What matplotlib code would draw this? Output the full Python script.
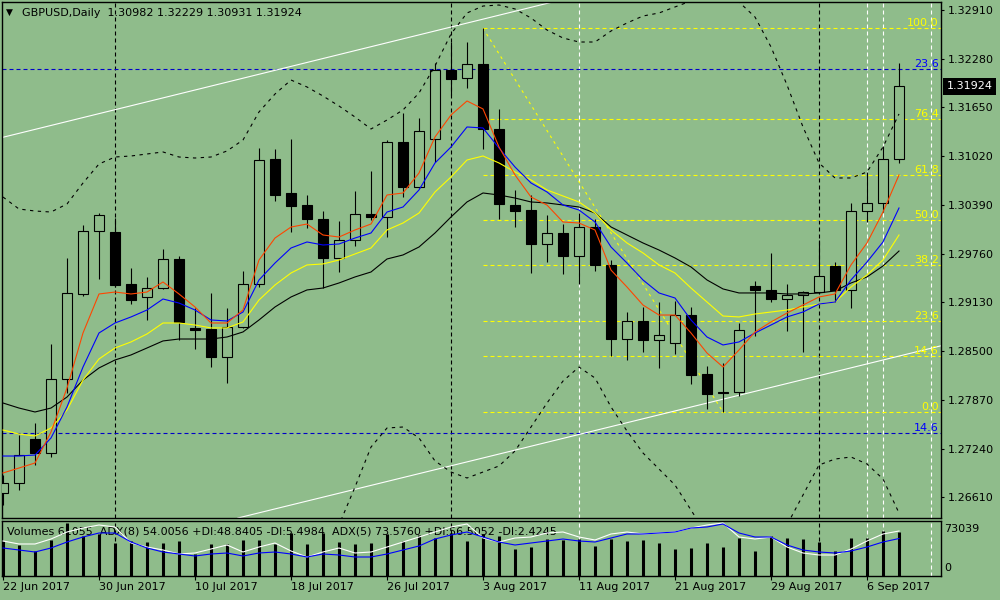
import matplotlib
matplotlib.use("Agg")
import matplotlib.pyplot as plt
from matplotlib.patches import Rectangle
import matplotlib.transforms as mtransforms

BG = "#8FBC8B"

# ---------------- data ----------------
opens = [1.26668, 1.26797, 1.27366, 1.27185, 1.28141, 1.29240, 1.30054, 1.30041, 1.29369, 1.29201,
         1.29317, 1.29692, 1.28801, 1.28788, 1.28426, 1.28813, 1.29369, 1.30984, 1.30545, 1.30390,
         1.30209, 1.29705, 1.29938, 1.30274, 1.30235, 1.31204, 1.30623, 1.31243, 1.32135, 1.32031,
         1.32212, 1.31372, 1.30390, 1.30325, 1.29886, 1.30028, 1.29731, 1.30106, 1.29615, 1.28658,
         1.28891, 1.28645, 1.28607, 1.28969, 1.28206, 1.27973, 1.27973, 1.29343, 1.29292, 1.29175,
         1.29227, 1.29266, 1.29602, 1.29292, 1.30312, 1.30416, 1.30982]
highs = [1.26901, 1.27418, 1.27573, 1.28594, 1.29705, 1.30132, 1.30287, 1.30222, 1.29576, 1.29460,
         1.29821, 1.29731, 1.29059, 1.29253, 1.29059, 1.29537, 1.31127, 1.31114, 1.31243, 1.30519,
         1.30312, 1.30183, 1.30571, 1.30829, 1.31230, 1.31579, 1.31514, 1.32225, 1.32496, 1.32496,
         1.32674, 1.31631, 1.30584, 1.30519, 1.30261, 1.30144, 1.30287, 1.30209, 1.29679, 1.29007,
         1.29072, 1.29137, 1.29149, 1.29072, 1.28309, 1.28348, 1.28865, 1.29408, 1.29770, 1.29369,
         1.29280, 1.29938, 1.29653, 1.30416, 1.30817, 1.31153, 1.32229]
lows = [1.26513, 1.26707, 1.27030, 1.27133, 1.27960, 1.29214, 1.29434, 1.29330, 1.29111, 1.28904,
        1.29305, 1.28645, 1.28529, 1.28296, 1.28090, 1.28800, 1.29330, 1.30442, 1.30041, 1.30093,
        1.29317, 1.29524, 1.29860, 1.30196, 1.29976, 1.30493, 1.30610, 1.30946, 1.31812, 1.31902,
        1.31114, 1.30209, 1.30106, 1.29511, 1.29653, 1.29498, 1.29369, 1.29537, 1.28439, 1.28387,
        1.28490, 1.28284, 1.28464, 1.28077, 1.27754, 1.27715, 1.27922, 1.28697, 1.29137, 1.28762,
        1.28490, 1.29250, 1.29137, 1.29059, 1.30170, 1.30300, 1.30931]
closes = [1.26797, 1.27159, 1.27185, 1.28141, 1.29253, 1.30054, 1.30261, 1.29356, 1.29162, 1.29317,
          1.29692, 1.28878, 1.28775, 1.28426, 1.28813, 1.29369, 1.30972, 1.30519, 1.30377, 1.30209,
          1.29705, 1.29938, 1.30274, 1.30235, 1.31204, 1.30623, 1.31346, 1.32135, 1.32018, 1.32212,
          1.31372, 1.30403, 1.30312, 1.29886, 1.30028, 1.29731, 1.30106, 1.29615, 1.28658, 1.28891,
          1.28645, 1.28710, 1.28969, 1.28193, 1.27948, 1.27960, 1.28775, 1.29292, 1.29175, 1.29227,
          1.29266, 1.29473, 1.29292, 1.30312, 1.30416, 1.30984, 1.31924]

ma_red = [1.26927, 1.26991, 1.27056, 1.27456, 1.28025, 1.28736, 1.29240, 1.29265, 1.29240, 1.29265,
          1.29395, 1.29240, 1.29072, 1.28865, 1.28865, 1.29033, 1.29679, 1.29963, 1.30105, 1.30144,
          1.30002, 1.29976, 1.30067, 1.30144, 1.30519, 1.30545, 1.30803, 1.31269, 1.31553, 1.31734,
          1.31631, 1.31140, 1.30778, 1.30493, 1.30389, 1.30170, 1.30157, 1.30067, 1.29549, 1.29330,
          1.29097, 1.28968, 1.28968, 1.28736, 1.28477, 1.28296, 1.28516, 1.28749, 1.28878, 1.28994,
          1.29097, 1.29201, 1.29240, 1.29615, 1.29899, 1.30299, 1.30778]
ma_blue = [1.27146, 1.27146, 1.27159, 1.27379, 1.27780, 1.28296, 1.28736, 1.28865, 1.28943, 1.29033,
           1.29175, 1.29123, 1.29033, 1.28904, 1.28891, 1.29007, 1.29421, 1.29640, 1.29834, 1.29912,
           1.29873, 1.29886, 1.29963, 1.30028, 1.30299, 1.30364, 1.30584, 1.30933, 1.31139, 1.31398,
           1.31385, 1.31126, 1.30881, 1.30674, 1.30558, 1.30390, 1.30325, 1.30170, 1.29847, 1.29640,
           1.29421, 1.29253, 1.29188, 1.28904, 1.28684, 1.28581, 1.28620, 1.28736, 1.28839, 1.28943,
           1.29007, 1.29110, 1.29136, 1.29421, 1.29653, 1.29912, 1.30351]
ma_yellow = [1.27482, 1.27430, 1.27405, 1.27508, 1.27741, 1.28128, 1.28400, 1.28542, 1.28620, 1.28723,
             1.28865, 1.28865, 1.28839, 1.28801, 1.28801, 1.28878, 1.29162, 1.29356, 1.29511, 1.29615,
             1.29628, 1.29679, 1.29757, 1.29834, 1.30067, 1.30157, 1.30286, 1.30558, 1.30752, 1.30971,
             1.31023, 1.30933, 1.30816, 1.30713, 1.30584, 1.30506, 1.30429, 1.30286, 1.30067, 1.29899,
             1.29770, 1.29615, 1.29511, 1.29317, 1.29136, 1.28955, 1.28943, 1.28981, 1.29007, 1.29033,
             1.29072, 1.29110, 1.29136, 1.29330, 1.29485, 1.29679, 1.30002]
ma_black = [1.27831, 1.27766, 1.27715, 1.27766, 1.27908, 1.28128, 1.28284, 1.28387, 1.28452, 1.28542,
            1.28633, 1.28658, 1.28658, 1.28658, 1.28684, 1.28749, 1.28904, 1.29072, 1.29201, 1.29292,
            1.29317, 1.29382, 1.29460, 1.29524, 1.29692, 1.29744, 1.29847, 1.30028, 1.30235, 1.30429,
            1.30545, 1.30519, 1.30480, 1.30429, 1.30416, 1.30390, 1.30364, 1.30286, 1.30106, 1.30002,
            1.29899, 1.29808, 1.29705, 1.29589, 1.29421, 1.29305, 1.29253, 1.29253, 1.29253, 1.29240,
            1.29240, 1.29253, 1.29279, 1.29382, 1.29460, 1.29602, 1.29795]
bb_upper = [1.30493, 1.30338, 1.30312, 1.30299, 1.30403, 1.30674, 1.30920, 1.31010, 1.31023, 1.31049,
            1.31075, 1.31010, 1.30997, 1.31010, 1.31088, 1.31230, 1.31592, 1.31824, 1.32005, 1.31915,
            1.31798, 1.31669, 1.31527, 1.31372, 1.31488, 1.31618, 1.31837, 1.32186, 1.32600, 1.32871,
            1.32961, 1.32974, 1.32923, 1.32806, 1.32651, 1.32548, 1.32496, 1.32496, 1.32638, 1.32742,
            1.32832, 1.32871, 1.32949, 1.33026, 1.33078, 1.33078, 1.33013, 1.32819, 1.32432, 1.31941,
            1.31398, 1.30933, 1.30739, 1.30739, 1.30816, 1.31139, 1.31566]
bb_lower = [1.2540, 1.2535, 1.2530, 1.2530, 1.2535, 1.2545, 1.2555, 1.2560, 1.2565, 1.2570,
            1.2575, 1.2580, 1.2585, 1.2585, 1.2580, 1.2575, 1.2570, 1.2570, 1.2575, 1.2585,
            1.2600, 1.26255, 1.26745, 1.27262, 1.27508, 1.27521, 1.27379, 1.27082, 1.26939, 1.26862,
            1.26939, 1.27017, 1.27211, 1.27521, 1.27831, 1.28115, 1.28296, 1.28154, 1.27780, 1.27469,
            1.27185, 1.26978, 1.26771, 1.26448, 1.26125, 1.25931, 1.25867, 1.25931, 1.26061, 1.26255,
            1.26642, 1.27030, 1.27107, 1.27133, 1.27043, 1.26849, 1.26410]

volumes = [48230, 42720, 34450, 49610, 73039, 55120, 57880, 45470, 48230, 46850,
           45470, 48230, 30320, 44100, 44100, 49610, 49610, 44100, 59250, 44100,
           59250, 46850, 44100, 45470, 57880, 48230, 56500, 52360, 59250, 48230,
           57880, 55120, 37210, 39960, 50990, 49610, 50990, 41340, 50990, 48230,
           49610, 45470, 37210, 38580, 45470, 39960, 52360, 34450, 55120, 52360,
           50990, 46850, 34450, 52360, 52360, 62010, 61055]
adx5 = [47.6, 39.8, 39.8, 52.8, 71.0, 81.4, 89.2, 84.0, 42.4, 32.0,
        24.2, 13.8, 16.4, 26.8, 37.2, 19.0, 32.0, 42.4, 21.6, 6.0,
        19.0, 29.4, 16.4, 19.0, 32.0, 45.0, 58.0, 71.0, 84.0, 91.8,
        55.4, 45.0, 55.4, 58.0, 68.4, 71.0, 58.0, 50.2, 65.8, 71.0,
        65.8, 68.4, 71.0, 81.4, 89.2, 94.4, 58.0, 52.8, 58.0, 32.0,
        16.4, 11.2, 11.2, 26.8, 47.6, 65.8, 73.576]
adx8 = [29.4, 24.2, 19.0, 29.4, 45.0, 58.0, 68.4, 68.4, 45.0, 29.4,
        19.0, 13.8, 8.6, 13.8, 16.4, 8.6, 16.4, 19.0, 13.8, 6.0,
        13.8, 11.2, 6.0, 6.0, 13.8, 24.2, 34.6, 52.8, 63.2, 71.0,
        58.0, 45.0, 37.2, 42.4, 47.6, 52.8, 47.6, 45.0, 55.4, 65.8,
        65.8, 68.4, 71.0, 81.4, 84.0, 91.8, 68.4, 58.0, 58.0, 37.2,
        24.2, 19.0, 16.4, 21.6, 32.0, 45.0, 54.006]

fib_high, fib_high_bar = 1.32674, 30
fib_low, fib_low_bar = 1.27715, 45
fib_ratios = [0.0, 0.146, 0.236, 0.382, 0.5, 0.618, 0.764, 1.0]
fib_labels = ["0.0", "14.6", "23.6", "38.2", "50.0", "61.8", "76.4", "100.0"]
blue_levels = [1.32143, 1.27443]
blue_labels = ["23.6", "14.6"]
trend_upper = [(0, 1.31265), (34, 1.32995)]
trend_lower = [(21, 1.26665), (57, 1.28488)]
vlines_black = [7, 28, 51]
vlines_white = [36, 54, 55, 58]
price_ticks = [1.32910, 1.32280, 1.31650, 1.31020, 1.30390, 1.29760,
               1.29130, 1.28500, 1.27870, 1.27240, 1.26610]
date_tick_pos = [0, 6, 12, 18, 24, 30, 36, 42, 48, 54]
date_tick_labels = ["22 Jun 2017", "30 Jun 2017", "10 Jul 2017", "18 Jul 2017", "26 Jul 2017",
                    "3 Aug 2017", "11 Aug 2017", "21 Aug 2017", "29 Aug 2017", "6 Sep 2017"]
header = "GBPUSD,Daily  1.30982 1.32229 1.30931 1.31924"
sub_header = ("Volumes 61055  ADX(8) 54.0056 +DI:48.8405 -DI:5.4984  "
              "ADX(5) 73.5760 +DI:56.5052 -DI:2.4245")
last_price = 1.31924
vol_label = "73039"

# ---------------- figure ----------------
W, H = 1000, 600
fig = plt.figure(figsize=(10, 6), dpi=100, facecolor=BG)

def rect(x0, y0, x1, y1):
    return [x0 / W, 1 - y1 / H, (x1 - x0) / W, (y1 - y0) / H]

ax = fig.add_axes(rect(2, 2, 941, 518))
ax2 = fig.add_axes(rect(2, 521, 941, 576))
axA = fig.add_axes(rect(2, 521, 941, 576))
for a in (ax, ax2):
    a.set_facecolor(BG)
    for s in a.spines.values():
        s.set_color("black")
        s.set_linewidth(1.0)
axA.patch.set_visible(False)
axA.axis("off")

n = len(closes)
idx = list(range(n))
XL = (-0.0625, 58.625)
for a in (ax, ax2, axA):
    a.set_xlim(*XL)
ax.set_ylim(1.26345, 1.33013)
ax2.set_ylim(0, 75800)
axA.set_ylim(-43.4, 99.6)

LW = 0.8
dash = (0, (3.6, 2.7))
dot = (0, (3, 4))

# vertical lines
for a in (ax, ax2):
    for v in vlines_black:
        a.axvline(v, color="black", lw=LW, ls=dash, zorder=1)
    for v in vlines_white:
        a.axvline(v, color="white", lw=LW, ls=dash, zorder=1)

# fibonacci
span = fib_high - fib_low
btr = mtransforms.blended_transform_factory(ax.transAxes, ax.transData)
for r, lab in zip(fib_ratios, fib_labels):
    lvl = fib_low + r * span
    ax.hlines(lvl, fib_high_bar, XL[1], color="#FFFF00", lw=LW, ls=dash, zorder=2)
    ax.text(0.9975, lvl, lab, color="#FFFF00", fontsize=8, ha="right", va="bottom",
            transform=btr, zorder=6)
ax.plot([fib_high_bar, fib_low_bar], [fib_high, fib_low], color="#FFFF00", lw=LW,
        ls=(0, (2.5, 3.5)), zorder=2)
for lvl, lab in zip(blue_levels, blue_labels):
    ax.axhline(lvl, color="#0000C8", lw=LW, ls=dash, zorder=2)
    ax.text(0.9975, lvl, lab, color="#0000FF", fontsize=8, ha="right", va="bottom",
            transform=btr, zorder=6)

# trend lines
ax.axline(trend_upper[0], trend_upper[1], color="white", lw=LW, zorder=2)
ax.axline(trend_lower[0], trend_lower[1], color="white", lw=LW, zorder=2)

# candles
bw = 0.62
for i in idx:
    o, h, l, c = opens[i], highs[i], lows[i], closes[i]
    ax.vlines(i, l, h, color="black", lw=LW, zorder=3)
    b = min(o, c)
    hgt = max(abs(c - o), 0.00005)
    fc = BG if c >= o else "black"
    ax.add_patch(Rectangle((i - bw / 2, b), bw, hgt, facecolor=fc, edgecolor="black",
                           lw=LW, zorder=3.5))

# moving averages and bands
ax.plot(idx, ma_black, color="black", lw=LW, zorder=4)
ax.plot(idx, ma_yellow, color="#FFFF00", lw=LW, zorder=4)
ax.plot(idx, ma_blue, color="#0000FF", lw=LW, zorder=4)
ax.plot(idx, ma_red, color="#FF4500", lw=LW, zorder=4)
ax.plot(idx, bb_upper, color="black", lw=LW, ls=dot, zorder=4)
ax.plot(idx, bb_lower, color="black", lw=LW, ls=dot, zorder=4)

# price axis
ax.set_xticks([])
ax.yaxis.tick_right()
ax.set_yticks(price_ticks)
ax.set_yticklabels([f"{p:.5f}" for p in price_ticks])
ax.tick_params(axis="y", direction="out", length=2.5, width=0.8, labelsize=8, pad=2.5,
               colors="black")
ax.text(1.0062, last_price, f"{last_price:.5f}", fontsize=8, color="white", ha="left",
        va="center", transform=btr,
        bbox=dict(boxstyle="square,pad=0.3", fc="black", ec="none"), clip_on=False, zorder=10)

# header
fig.text(6 / W, 1 - 12 / H, "\u25BC", fontsize=6.5, va="center", ha="left", color="black")
fig.text(22 / W, 1 - 12.7 / H, header, fontsize=8, va="center", ha="left", color="black")

# sub window
ax2.text(7 / W, 1 - 532 / H, sub_header, fontsize=8, va="center", ha="left",
         transform=fig.transFigure, zorder=1.5, color="black")
ax2.vlines(idx, 0, volumes, color="black", lw=2.2, zorder=3)
axA.plot(idx, adx5, color="white", lw=LW)
axA.plot(idx, adx8, color="#0000FF", lw=LW)
ax2.set_yticks([])
ax2.set_xticks(date_tick_pos)
ax2.set_xticklabels(date_tick_labels)
ax2.tick_params(axis="x", direction="out", length=3, width=0.8, labelsize=8, pad=1.5,
                colors="black")
for t in ax2.get_xticklabels():
    t.set_ha("left")
ax2.text(1.0035, (576 - 529) / 55, vol_label, fontsize=8, ha="left", va="center",
         transform=ax2.transAxes, clip_on=False)
ax2.text(1.0035, (576 - 568) / 55, "0", fontsize=8, ha="left", va="center",
         transform=ax2.transAxes, clip_on=False)

fig.savefig("out.png", dpi=100, facecolor=BG)
